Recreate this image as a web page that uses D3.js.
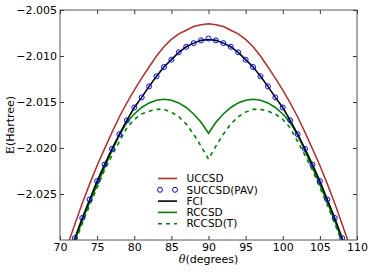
<html>
<head>
<meta charset="utf-8">
<script src="https://d3js.org/d3.v7.min.js"></script>
<style>
  body { margin: 0; background: #fff; }
  text { font-family: "DejaVu Sans", sans-serif; }
</style>
</head>
<body>
<script>

    const width = 372;
    const height = 272;

    // theta in degrees, one point per degree
    const theta = d3.range(70, 111);
    const thetaPav = d3.range(72, 109);

    const uccsd = [-2.0330, -2.0306, -2.0283, -2.0260, -2.0239, -2.0219, -2.0201, -2.0183, -2.0166, -2.0151,
        -2.0137, -2.0124, -2.0112, -2.0100, -2.0090, -2.0082, -2.0076, -2.0072, -2.0068, -2.0066, -2.0065,
        -2.0066, -2.0068, -2.0072, -2.0076, -2.0082, -2.0090, -2.0100, -2.0112, -2.0124, -2.0137,
        -2.0151, -2.0166, -2.0183, -2.0201, -2.0219, -2.0239, -2.0260, -2.0283, -2.0306, -2.0330];

    const fci = [-2.0343, -2.0320, -2.0298, -2.0276, -2.0256, -2.0236, -2.0218, -2.0201, -2.0185, -2.0170,
        -2.0156, -2.0145, -2.0133, -2.0122, -2.0112, -2.0104, -2.0096, -2.0090, -2.0086, -2.0083, -2.0082,
        -2.0083, -2.0086, -2.0090, -2.0096, -2.0104, -2.0112, -2.0122, -2.0133, -2.0145, -2.0156,
        -2.0170, -2.0185, -2.0201, -2.0218, -2.0236, -2.0256, -2.0276, -2.0298, -2.0320, -2.0343];

    const rccsd = [-2.0348, -2.0324, -2.0301, -2.0279, -2.0259, -2.0240, -2.0221, -2.0203, -2.0186, -2.0172,
        -2.0163, -2.0156, -2.0151, -2.0148, -2.0147, -2.0148, -2.0151, -2.0156, -2.0163, -2.0172, -2.0184,
        -2.0172, -2.0163, -2.0156, -2.0151, -2.0148, -2.0147, -2.0148, -2.0151, -2.0156, -2.0163,
        -2.0172, -2.0186, -2.0203, -2.0221, -2.0240, -2.0259, -2.0279, -2.0301, -2.0324, -2.0348];

    const rccsdT = [-2.0350, -2.0326, -2.0303, -2.0282, -2.0262, -2.0243, -2.0224, -2.0208, -2.0193, -2.0178,
        -2.0169, -2.0163, -2.0160, -2.0158, -2.0158, -2.0161, -2.0166, -2.0174, -2.0185, -2.0198, -2.0212,
        -2.0198, -2.0185, -2.0174, -2.0166, -2.0161, -2.0158, -2.0158, -2.0160, -2.0163, -2.0169,
        -2.0178, -2.0193, -2.0208, -2.0224, -2.0243, -2.0262, -2.0282, -2.0303, -2.0326, -2.0350];

    const succsdPav = [-2.0298, -2.0276, -2.0256, -2.0236, -2.0218, -2.0201, -2.0185, -2.0170, -2.0156,
        -2.0145, -2.0133, -2.0122, -2.0112, -2.0104, -2.0096, -2.0090, -2.0086, -2.0083, -2.0081,
        -2.0083, -2.0086, -2.0090, -2.0096, -2.0104, -2.0112, -2.0122, -2.0133, -2.0145, -2.0156,
        -2.0170, -2.0185, -2.0201, -2.0218, -2.0236, -2.0256, -2.0276, -2.0298];

    const xTicks = [70, 75, 80, 85, 90, 95, 100, 105, 110];
    const yTicks = [-2.005, -2.010, -2.015, -2.020, -2.025];
    const legendNames = ["UCCSD", "SUCCSD(PAV)", "FCI", "RCCSD", "RCCSD(T)"];

    const plot = {left: 60, right: 357, top: 10, bottom: 240};

    const x = d3.scaleLinear().domain([70, 110]).range([plot.left, plot.right]);
    const y = d3.scaleLinear().domain([-2.030, -2.005]).range([plot.bottom, plot.top]);

    const svg = d3.select("body").append("svg")
        .attr("width", width)
        .attr("height", height);

    svg.append("clipPath").attr("id", "clip")
        .append("rect")
        .attr("x", plot.left).attr("y", plot.top)
        .attr("width", plot.right - plot.left)
        .attr("height", plot.bottom - plot.top);

    const g = svg.append("g").attr("clip-path", "url(#clip)");

    const line = d3.line()
        .x((d, i) => x(theta[i]))
        .y(d => y(d));

    const addLine = (values, color, lw, dash) => {
        g.append("path")
            .attr("d", line(values))
            .attr("fill", "none")
            .attr("stroke", color)
            .attr("stroke-width", lw)
            .attr("stroke-dasharray", dash || null);
    }

    addLine(uccsd, "#b22c2c", 1.5);
    addLine(rccsd, "#008000", 1.6);
    addLine(rccsdT, "#008000", 1.6, "4,4");
    addLine(fci, "#000000", 1.6);

    g.selectAll("circle.pav")
        .data(succsdPav)
        .enter()
        .append("circle")
        .attr("class", "pav")
        .attr("cx", (d, i) => x(thetaPav[i]))
        .attr("cy", d => y(d))
        .attr("r", 2.5)
        .attr("fill", "none")
        .attr("stroke", "#0000ff")
        .attr("stroke-width", 1);

    // axes, ticks pointing inward on all four sides
    const styleAxis = (sel) => {
        sel.select(".domain").remove();
        sel.selectAll(".tick line").attr("stroke", "#000").attr("stroke-width", 0.8);
        sel.selectAll(".tick text").attr("font-size", 11).attr("fill", "#000")
            .style("font-family", "DejaVu Sans");
    }

    svg.append("g")
        .attr("transform", `translate(0,${plot.bottom})`)
        .call(d3.axisBottom(x).tickValues(xTicks).tickSizeInner(-4).tickSizeOuter(0).tickPadding(3))
        .call(styleAxis);

    svg.append("g")
        .attr("transform", `translate(0,${plot.top})`)
        .call(d3.axisTop(x).tickValues(xTicks).tickSizeInner(-4).tickSizeOuter(0).tickFormat(""))
        .call(styleAxis);

    svg.append("g")
        .attr("transform", `translate(${plot.left},0)`)
        .call(d3.axisLeft(y).tickValues(yTicks).tickSizeInner(-4).tickSizeOuter(0).tickPadding(3)
            .tickFormat(d => d3.format(".3f")(d).replace("-", "\u2212")))
        .call(styleAxis);

    svg.append("g")
        .attr("transform", `translate(${plot.right},0)`)
        .call(d3.axisRight(y).tickValues(yTicks).tickSizeInner(-4).tickSizeOuter(0).tickFormat(""))
        .call(styleAxis);

    // frame
    svg.append("rect")
        .attr("x", plot.left).attr("y", plot.top)
        .attr("width", plot.right - plot.left)
        .attr("height", plot.bottom - plot.top)
        .attr("fill", "none")
        .attr("stroke", "#555")
        .attr("stroke-width", 1);

    // axis labels
    const xl = svg.append("text")
        .attr("x", (plot.left + plot.right) / 2)
        .attr("y", 263)
        .attr("text-anchor", "middle")
        .attr("font-size", 11);
    xl.append("tspan").style("font-family", "DejaVu Serif").attr("font-style", "italic").text("θ");
    xl.append("tspan").text("(degrees)");

    const yl = svg.append("text")
        .attr("transform", `translate(14,${(plot.top + plot.bottom) / 2}) rotate(-90)`)
        .attr("text-anchor", "middle")
        .attr("font-size", 11);
    yl.append("tspan").style("font-family", "DejaVu Serif").text("E");
    yl.append("tspan").text("(Hartree)");

    // legend
    const legend = svg.append("g");
    const rowY = (i) => 178.5 + i * 11.3;
    const styles = [
        {color: "#b22c2c", dash: null, marker: false},
        {color: "#0000ff", dash: null, marker: true},
        {color: "#000000", dash: null, marker: false},
        {color: "#008000", dash: null, marker: false},
        {color: "#008000", dash: "4,4", marker: false}
    ];

    legendNames.forEach((name, i) => {
        const s = styles[i];
        if (s.marker) {
            [160, 175].forEach(cx => {
                legend.append("circle")
                    .attr("cx", cx).attr("cy", rowY(i)).attr("r", 2.5)
                    .attr("fill", "none").attr("stroke", s.color).attr("stroke-width", 1);
            });
        } else {
            legend.append("line")
                .attr("x1", 158).attr("x2", 177)
                .attr("y1", rowY(i)).attr("y2", rowY(i))
                .attr("stroke", s.color)
                .attr("stroke-width", 1.6)
                .attr("stroke-dasharray", s.dash);
        }
        legend.append("text")
            .attr("x", 186.5)
            .attr("y", rowY(i))
            .attr("dy", "0.36em")
            .attr("font-size", 10.5)
            .text(name);
    });

</script>
</body>
</html>
